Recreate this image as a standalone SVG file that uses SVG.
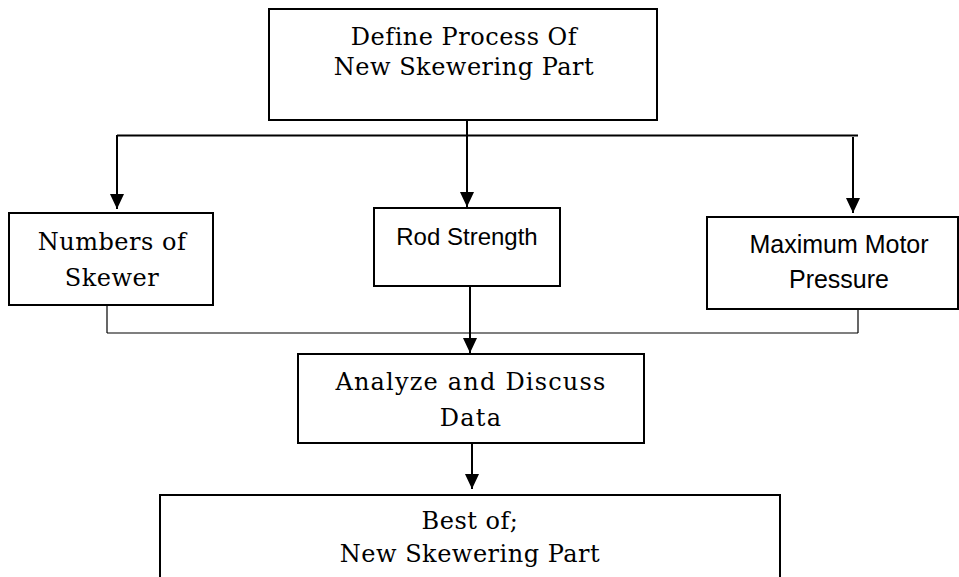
<svg xmlns="http://www.w3.org/2000/svg" width="959" height="577" viewBox="0 0 959 577">
  <defs>
    <marker id="arrow" markerUnits="userSpaceOnUse" markerWidth="16" markerHeight="16" viewBox="0 0 16 16" refX="15" refY="8" orient="auto">
      <path d="M0,1 L15,8 L0,15 Z" fill="#000"/>
    </marker>
    <style>
      .box { fill: #fff; stroke: #000; stroke-width: 2; }
      .serif { font-family: "DejaVu Serif", "Liberation Serif", serif; font-size: 24px; fill: #000; text-anchor: middle; letter-spacing: 0.5px; }
      .sans { font-family: "Liberation Sans", Arial, sans-serif; font-size: 24px; fill: #000; text-anchor: middle; }
      .conn { stroke: #000; stroke-width: 2; fill: none; }
      .thin { stroke: #000; stroke-width: 1.2; fill: none; }
    </style>
  </defs>
  <rect width="959" height="577" fill="#fff"/>

  <g id="connectors">
    <line class="conn" x1="467" y1="120" x2="467" y2="136"/>
    <line class="conn" x1="117" y1="135.5" x2="858" y2="135.5"/>
    <line class="conn" x1="117" y1="135" x2="117" y2="209" marker-end="url(#arrow)"/>
    <line class="conn" x1="467" y1="135" x2="467" y2="207" marker-end="url(#arrow)"/>
    <line class="conn" x1="853" y1="137" x2="853" y2="213" marker-end="url(#arrow)"/>
    <line class="thin" x1="107" y1="305" x2="107" y2="333"/>
    <line class="thin" x1="858" y1="309" x2="858" y2="333"/>
    <line class="thin" x1="107" y1="333" x2="858" y2="333"/>
    <line class="conn" x1="470" y1="286" x2="470" y2="353" marker-end="url(#arrow)"/>
    <line class="conn" x1="472" y1="443" x2="472" y2="489" marker-end="url(#arrow)"/>
  </g>

  <g id="define">
    <rect class="box" x="269" y="9" width="388" height="111"/>
    <text class="serif" x="464" y="45">Define Process Of</text>
    <text class="serif" x="464" y="75">New Skewering Part</text>
  </g>

  <g id="numbers">
    <rect class="box" x="9" y="213" width="204" height="92"/>
    <text class="serif" x="112" y="250">Numbers of</text>
    <text class="serif" x="112" y="286">Skewer</text>
  </g>

  <g id="rod">
    <rect class="box" x="374" y="208" width="186" height="78"/>
    <text class="sans" x="467" y="245">Rod Strength</text>
  </g>

  <g id="motor">
    <rect class="box" x="707" y="217" width="251" height="92"/>
    <text class="sans" x="839" y="253" style="font-size:25px">Maximum Motor</text>
    <text class="sans" x="839" y="288" style="font-size:25px">Pressure</text>
  </g>

  <g id="analyze">
    <rect class="box" x="298" y="354" width="346" height="89"/>
    <text class="serif" x="471" y="390" style="letter-spacing:1.2px">Analyze and Discuss</text>
    <text class="serif" x="471" y="426" style="letter-spacing:1.2px">Data</text>
  </g>

  <g id="best">
    <path class="box" d="M160,579 L160,495 L780,495 L780,579"/>
    <text class="serif" x="470" y="529">Best of;</text>
    <text class="serif" x="470" y="562">New Skewering Part</text>
  </g>
</svg>
